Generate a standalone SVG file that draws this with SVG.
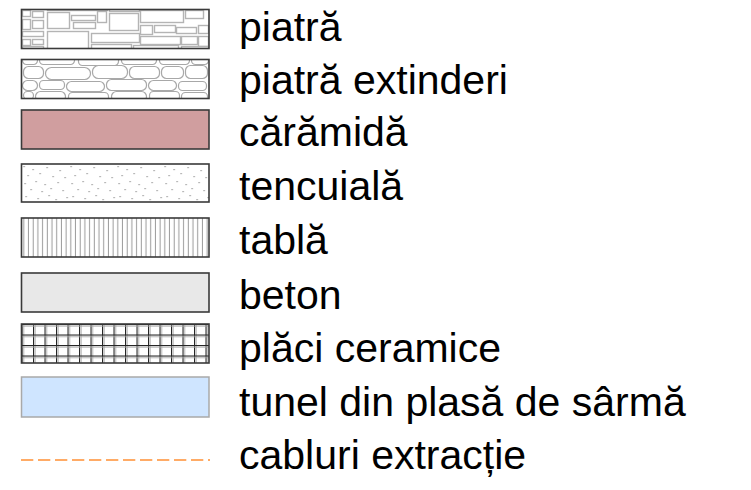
<svg xmlns="http://www.w3.org/2000/svg" width="751" height="490" viewBox="0 0 751 490">
<style>
.lbl{font-family:"Liberation Sans",Arial,sans-serif;font-size:41px;fill:#000}
.frame{fill:none;stroke:#3a3a3a;stroke-width:1.6}
.st{fill:#fff;stroke:#b4b4b4;stroke-width:1.4}
.rs{fill:#fff;stroke:#a8a8a8;stroke-width:1.2}
</style>
<defs>
<clipPath id="c1"><rect x="0" y="0" width="187.5" height="39"/></clipPath>
<pattern id="dots" patternUnits="userSpaceOnUse" x="21.5" y="164" width="47" height="39">
<g fill="#8a8a8a">
<rect x="2" y="2" width="1.2" height="1.2"/><rect x="11" y="5" width="1.2" height="1.2"/><rect x="25" y="3" width="1.2" height="1.2"/><rect x="38" y="6" width="1.2" height="1.2"/>
<rect x="6" y="11" width="1.2" height="1.2"/><rect x="18" y="9" width="1.2" height="1.2"/><rect x="31" y="12" width="1.2" height="1.2"/><rect x="43" y="13" width="1.2" height="1.2"/>
<rect x="3" y="19" width="1.2" height="1.2"/><rect x="14" y="17" width="1.2" height="1.2"/><rect x="23" y="20" width="1.2" height="1.2"/><rect x="36" y="18" width="1.2" height="1.2"/>
<rect x="9" y="25" width="1.2" height="1.2"/><rect x="20" y="27" width="1.2" height="1.2"/><rect x="29" y="24" width="1.2" height="1.2"/><rect x="41" y="26" width="1.2" height="1.2"/>
<rect x="4" y="32" width="1.2" height="1.2"/><rect x="16" y="34" width="1.2" height="1.2"/><rect x="27" y="31" width="1.2" height="1.2"/><rect x="34" y="35" width="1.2" height="1.2"/><rect x="45" y="33" width="1.2" height="1.2"/>
</g>
</pattern>
<pattern id="sheet" patternUnits="userSpaceOnUse" x="21.5" y="218" width="4.7" height="39">
<line x1="2.3" y1="0" x2="2.3" y2="39" stroke="#9a9a9a" stroke-width="1"/>
</pattern>
<pattern id="tiles" patternUnits="userSpaceOnUse" x="21.5" y="324" width="11.5" height="10.5">
<line x1="0.5" y1="0" x2="0.5" y2="10.5" stroke="#222" stroke-width="1"/>
<line x1="2" y1="0" x2="2" y2="10.5" stroke="#a0a0a0" stroke-width="1"/>
<line x1="0" y1="0.5" x2="11.5" y2="0.5" stroke="#222" stroke-width="1"/>
<line x1="0" y1="2" x2="11.5" y2="2" stroke="#a0a0a0" stroke-width="1"/>
</pattern>
</defs>

<g id="row-piatra">
<rect x="21.5" y="9.5" width="187.5" height="39" fill="#fff"/>
<g transform="translate(21.5,9.5)" clip-path="url(#c1)">
<rect class="st" x="1" y="1" width="8" height="6"/><rect class="st" x="11" y="2" width="11" height="6"/>
<rect class="st" x="26" y="3" width="22" height="16"/><rect class="st" x="50" y="6" width="24" height="5"/>
<rect class="st" x="52" y="13" width="22" height="6"/><rect class="st" x="76" y="2" width="9" height="11"/>
<rect class="st" x="88" y="4" width="29" height="17"/><rect class="st" x="119" y="1" width="43" height="12"/>
<rect class="st" x="164" y="1" width="18" height="8"/><rect class="st" x="1" y="10" width="8" height="10"/>
<rect class="st" x="11" y="11" width="11" height="8"/><rect class="st" x="1" y="22" width="21" height="5"/>
<rect class="st" x="26" y="22" width="41" height="18"/><rect class="st" x="70" y="24" width="48" height="9"/>
<rect class="st" x="119" y="16" width="12" height="9"/><rect class="st" x="133" y="16" width="21" height="7"/>
<rect class="st" x="155" y="18" width="20" height="6"/><rect class="st" x="177" y="16" width="10" height="8"/>
<rect class="st" x="119" y="27" width="40" height="8"/><rect class="st" x="160" y="27" width="16" height="8"/>
<rect class="st" x="177" y="27" width="10" height="10"/><rect class="st" x="70" y="35" width="40" height="6"/>
<rect class="st" x="112" y="36" width="45" height="5"/><rect class="st" x="1" y="30" width="8" height="6"/>
<rect class="st" x="11" y="30" width="11" height="5"/><rect class="st" x="1" y="37" width="21" height="4"/>
<rect class="st" x="160" y="37" width="27" height="4"/><rect class="st" x="26" y="-3" width="60" height="4"/>
<rect class="st" x="88" y="-3" width="30" height="5"/>
</g>
<rect class="frame" x="21.5" y="9.5" width="187.5" height="39"/>
<text class="lbl" x="239" y="41">piatră</text>
</g>

<g id="row-piatra-extinderi">
<rect x="21.5" y="59.5" width="187.5" height="39" fill="#fff"/>
<g transform="translate(21.5,59.5)" clip-path="url(#c1)">
<rect class="rs" x="1" y="-3" width="15" height="8" rx="4"/><rect class="rs" x="18" y="-4" width="35" height="9" rx="4"/>
<rect class="rs" x="57" y="-4" width="40" height="10" rx="4"/><rect class="rs" x="100" y="-4" width="35" height="9" rx="4"/>
<rect class="rs" x="138" y="-4" width="30" height="9" rx="4"/><rect class="rs" x="170" y="-3" width="17" height="8" rx="4"/>
<rect class="rs" x="2" y="7" width="20" height="12" rx="5"/><rect class="rs" x="24" y="8" width="45" height="12" rx="6"/>
<rect class="rs" x="71" y="6" width="35" height="13" rx="6"/><rect class="rs" x="108" y="7" width="30" height="12" rx="5"/>
<rect class="rs" x="140" y="7" width="22" height="12" rx="5"/><rect class="rs" x="164" y="6" width="22" height="13" rx="5"/>
<rect class="rs" x="1" y="21" width="15" height="10" rx="5"/><rect class="rs" x="18" y="21" width="25" height="9" rx="4"/>
<rect class="rs" x="45" y="22" width="38" height="10" rx="5"/><rect class="rs" x="85" y="20" width="40" height="11" rx="5"/>
<rect class="rs" x="127" y="21" width="28" height="10" rx="5"/><rect class="rs" x="157" y="22" width="28" height="9" rx="4"/>
<rect class="rs" x="2" y="32" width="10" height="8" rx="4"/><rect class="rs" x="14" y="32" width="30" height="10" rx="5"/>
<rect class="rs" x="47" y="33" width="40" height="9" rx="4"/><rect class="rs" x="90" y="32" width="35" height="10" rx="5"/>
<rect class="rs" x="128" y="32" width="30" height="9" rx="4"/><rect class="rs" x="160" y="33" width="26" height="9" rx="4"/>
</g>
<rect class="frame" x="21.5" y="59.5" width="187.5" height="39"/>
<text class="lbl" x="239" y="94">piatră extinderi</text>
</g>

<g id="row-caramida">
<rect class="frame" x="21.5" y="110" width="187.5" height="39" style="fill:#d09e9f"/>
<text class="lbl" x="239" y="146">cărămidă</text>
</g>

<g id="row-tencuiala">
<rect x="21.5" y="164" width="187.5" height="38" fill="url(#dots)"/>
<rect class="frame" x="21.5" y="164" width="187.5" height="38"/>
<text class="lbl" x="239" y="200">tencuială</text>
</g>

<g id="row-tabla">
<rect x="21.5" y="218" width="187.5" height="39" fill="#fff"/>
<rect x="21.5" y="218" width="187.5" height="39" fill="url(#sheet)"/>
<rect class="frame" x="21.5" y="218" width="187.5" height="39"/>
<text class="lbl" x="239" y="254">tablă</text>
</g>

<g id="row-beton">
<rect class="frame" x="21.5" y="273" width="187.5" height="39" style="fill:#e8e8e8"/>
<text class="lbl" x="239" y="309">beton</text>
</g>

<g id="row-placi">
<rect x="21.5" y="324" width="187.5" height="39" fill="#fff"/>
<rect x="21.5" y="324" width="187.5" height="39" fill="url(#tiles)"/>
<rect class="frame" x="21.5" y="324" width="187.5" height="39"/>
<text class="lbl" x="239" y="362">plăci ceramice</text>
</g>

<g id="row-tunel">
<rect x="21.5" y="377" width="187.5" height="40" fill="#cfe5ff" stroke="#a9a9a9" stroke-width="1.5"/>
<text class="lbl" x="239" y="416">tunel din plasă de sârmă</text>
</g>

<g id="row-cabluri">
<line x1="21" y1="460" x2="210" y2="460" stroke="#ffab66" stroke-width="1.8" stroke-dasharray="12.3 4.7"/>
<text class="lbl" x="239" y="469">cabluri extracție</text>
</g>
</svg>
